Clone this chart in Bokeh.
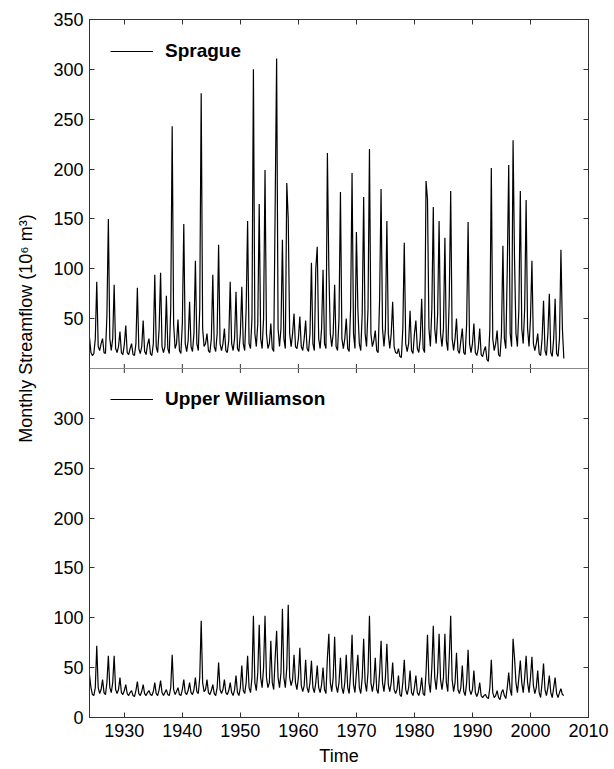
from math import pi
from bokeh.plotting import figure
from bokeh.models import (Range1d, LinearAxis, FixedTicker, Legend,
                          LegendItem, Span)
from bokeh.embed import file_html
from bokeh.resources import INLINE

# ---------------- data (quarterly samples: Jan, Apr, Jul, Oct) ----------------
start_year = 1924.0
step_years = 0.25

sprague = [
    31, 16, 13, 15,   30, 87, 22, 18,   25, 30, 16, 15,   53, 150, 30, 18,   30, 84, 20, 16,   # 1924-28
    22, 37, 16, 14,   24, 43, 16, 14,   20, 25, 14, 13,   25, 81, 20, 15,   22, 48, 17, 14,   # 1929-33
    24, 30, 15, 13,   25, 94, 22, 16,   40, 96, 22, 16,   22, 73, 20, 15,   60, 243, 45, 20,  # 1934-38
    25, 49, 18, 15,   45, 145, 25, 17,  28, 67, 22, 17,   35, 108, 25, 18,  60, 276, 40, 22,  # 1939-43
    25, 35, 18, 16,   30, 94, 22, 17,   35, 124, 25, 18,  25, 40, 18, 16,   28, 87, 25, 18,   # 1944-48
    30, 77, 20, 17,   35, 82, 25, 18,   60, 148, 25, 20,  50, 300, 35, 22,  45, 165, 30, 20,  # 1949-53
    50, 199, 35, 20,  25, 45, 20, 17,   165, 311, 40, 22, 40, 129, 30, 20,  186, 150, 35, 22, # 1954-58
    35, 55, 22, 20,   30, 52, 22, 18,   30, 48, 20, 17,   35, 106, 25, 18,  100, 122, 30, 20, # 1959-63
    40, 99, 25, 20,   216, 100, 35, 22, 35, 84, 22, 18,   50, 177, 30, 20,  30, 50, 20, 17,   # 1964-68
    60, 196, 35, 20,  137, 60, 25, 18,  55, 172, 35, 22,  60, 220, 35, 22,  28, 38, 18, 16,   # 1969-73
    70, 180, 40, 22,  40, 148, 35, 20,  35, 67, 22, 16,   15, 20, 12, 11,   40, 126, 25, 17,  # 1974-78
    25, 58, 18, 15,   35, 48, 20, 16,   30, 70, 20, 16,   188, 170, 40, 22, 60, 162, 40, 25,  # 1979-83
    55, 148, 35, 22,  40, 131, 28, 18,  70, 178, 30, 18,  30, 50, 18, 15,   28, 40, 16, 14,   # 1984-88
    45, 147, 25, 16,  25, 45, 16, 13,   20, 40, 14, 12,   18, 22, 9, 7,     40, 201, 30, 18,  # 1989-93
    25, 38, 14, 12,   35, 123, 30, 20,  100, 204, 35, 22, 229, 110, 35, 22, 60, 178, 40, 25,  # 1994-98
    60, 169, 40, 22,  50, 108, 25, 18,  25, 35, 15, 13,   30, 68, 18, 13,   35, 75, 16, 12,   # 1999-2003
    30, 70, 15, 12,   30, 119, 40, 10,                                                         # 2004-05
]

upper_williamson = [
    43, 30, 23, 22,   30, 72, 30, 24,   28, 38, 25, 23,   35, 62, 30, 25,   35, 62, 28, 24,   # 1924-28
    28, 40, 25, 23,   27, 33, 24, 22,   25, 27, 22, 21,   27, 36, 24, 22,   26, 33, 24, 22,   # 1929-33
    25, 27, 23, 22,   26, 35, 24, 22,   28, 37, 25, 22,   25, 28, 23, 22,   30, 63, 28, 23,   # 1934-38
    26, 30, 23, 22,   28, 38, 25, 23,   27, 35, 25, 23,   28, 40, 26, 24,   40, 97, 35, 26,   # 1939-43
    28, 38, 25, 23,   27, 33, 24, 22,   30, 55, 28, 24,   28, 38, 25, 23,   27, 35, 25, 22,   # 1944-48
    28, 42, 25, 22,   30, 52, 27, 24,   35, 62, 30, 25,   40, 102, 35, 27,  45, 93, 40, 30,   # 1949-53
    50, 102, 40, 30,  35, 77, 35, 28,   60, 87, 40, 30,   45, 109, 40, 30,  50, 113, 40, 32,  # 1954-58
    38, 63, 35, 28,   40, 70, 32, 26,   32, 58, 30, 25,   35, 57, 30, 25,   35, 52, 30, 25,   # 1959-63
    33, 50, 28, 24,   60, 84, 35, 26,   40, 81, 32, 25,   35, 60, 30, 24,   35, 63, 30, 24,   # 1964-68
    45, 83, 33, 25,   45, 63, 30, 24,   40, 79, 35, 26,   45, 102, 35, 26,  35, 60, 28, 24,   # 1969-73
    45, 77, 35, 26,   40, 74, 33, 26,   35, 55, 28, 24,   28, 42, 23, 21,   35, 58, 28, 23,   # 1974-78
    30, 47, 25, 22,   30, 42, 25, 22,   28, 40, 24, 22,   45, 83, 35, 25,   50, 92, 40, 28,   # 1979-83
    45, 84, 38, 28,   40, 84, 35, 26,   60, 102, 38, 26,  35, 65, 28, 24,   30, 52, 26, 22,   # 1984-88
    35, 68, 28, 23,   28, 47, 25, 21,   25, 35, 22, 20,   22, 23, 20, 19,   30, 58, 25, 20,   # 1989-93
    22, 27, 20, 18,   25, 28, 22, 19,   30, 45, 28, 22,   79, 60, 35, 25,   40, 57, 35, 25,   # 1994-98
    40, 62, 35, 25,   40, 61, 32, 24,   30, 47, 25, 20,   35, 54, 28, 22,   30, 42, 25, 20,   # 1999-2003
    30, 40, 24, 20,   25, 29, 23, 22,                                                         # 2004-05
]

year_ticks = [1930, 1940, 1950, 1960, 1970, 1980, 1990, 2000, 2010]
bottom_ticks = [0, 50, 100, 150, 200, 250, 300]
top_ticks = [50, 100, 150, 200, 250, 300, 350]
panel_max = 350

series_names = ["Sprague", "Upper Williamson"]
y_title = "Monthly Streamflow (10\u2076 m\u00b3)"
x_title = "Time"

# ---------------- figure ----------------
FONT = "Liberation Sans"
AX = "#333333"

t = [start_year + i * step_years for i in range(len(sprague))]

p = figure(width=614, height=769, output_backend="svg", toolbar_location=None,
           x_range=Range1d(1924, 2010), y_range=Range1d(0, 2 * panel_max),
           min_border_left=89, min_border_right=26, min_border_top=19,
           min_border_bottom=52, x_axis_location=None, y_axis_location=None)
p.extra_y_ranges = {"top": Range1d(-panel_max, panel_max)}
p.xgrid.visible = False
p.ygrid.visible = False
p.outline_line_color = AX
p.outline_line_width = 1
p.background_fill_color = "white"
p.border_fill_color = "white"

left_ticks = bottom_ticks + [v + panel_max for v in top_ticks]
left_overrides = {v + panel_max: str(v) for v in top_ticks}


def style_axis(ax, labels=True):
    ax.axis_line_color = AX
    ax.major_tick_line_color = AX
    ax.major_tick_in = 5
    ax.major_tick_out = 0
    ax.minor_tick_line_color = None
    if labels:
        ax.major_label_text_font = FONT
        ax.major_label_text_font_size = "18px"
        ax.major_label_text_color = "black"
        ax.major_label_standoff = 6
    else:
        ax.major_label_text_font_size = "11px"
        ax.major_label_text_color = None
        ax.major_label_standoff = 0


# the y title is centred on the upper part of the axis, as in the original
nbsp_pad = "\u00a0" * 16
left = LinearAxis(ticker=FixedTicker(ticks=left_ticks),
                  major_label_overrides=left_overrides,
                  axis_label=nbsp_pad + y_title)
style_axis(left)
left.axis_label_text_font = FONT
left.axis_label_text_font_size = "18px"
left.axis_label_text_font_style = "normal"
left.axis_label_text_color = "black"
left.axis_label_standoff = 14
p.add_layout(left, "left")

right = LinearAxis(ticker=FixedTicker(ticks=left_ticks))
style_axis(right, labels=False)
p.add_layout(right, "right")

bottom = LinearAxis(ticker=FixedTicker(ticks=year_ticks), axis_label=x_title)
style_axis(bottom)
bottom.axis_label_text_font = FONT
bottom.axis_label_text_font_size = "18px"
bottom.axis_label_text_font_style = "normal"
bottom.axis_label_text_color = "black"
bottom.axis_label_standoff = 6
p.add_layout(bottom, "below")

top = LinearAxis(ticker=FixedTicker(ticks=year_ticks))
style_axis(top, labels=False)
p.add_layout(top, "above")

# divider between the two panels with its ticks
p.add_layout(Span(location=panel_max, dimension="width", line_color="#888888",
                  line_width=1))
p.scatter(x=year_ticks[:-1], y=[panel_max] * (len(year_ticks) - 1), marker="dash",
          angle=pi / 2, size=9, line_color=AX, line_width=1)

r_top = p.line(t, sprague, y_range_name="top", line_color="black", line_width=1.2)
r_bot = p.line(t, upper_williamson, line_color="black", line_width=1.2)


def make_legend(name, rend, loc):
    lg = Legend(items=[LegendItem(label=name, renderers=[rend])], location=loc,
                glyph_width=43, glyph_height=22, label_height=22,
                label_standoff=12, padding=0, margin=0, spacing=0,
                label_text_font=FONT, label_text_font_size="19px",
                label_text_font_style="bold", label_text_color="black",
                border_line_alpha=0, background_fill_alpha=0)
    p.add_layout(lg)


make_legend(series_names[0], r_top, (21, 655))
make_legend(series_names[1], r_bot, (21, 307))

open("out.html", "w").write(file_html(p, INLINE))
